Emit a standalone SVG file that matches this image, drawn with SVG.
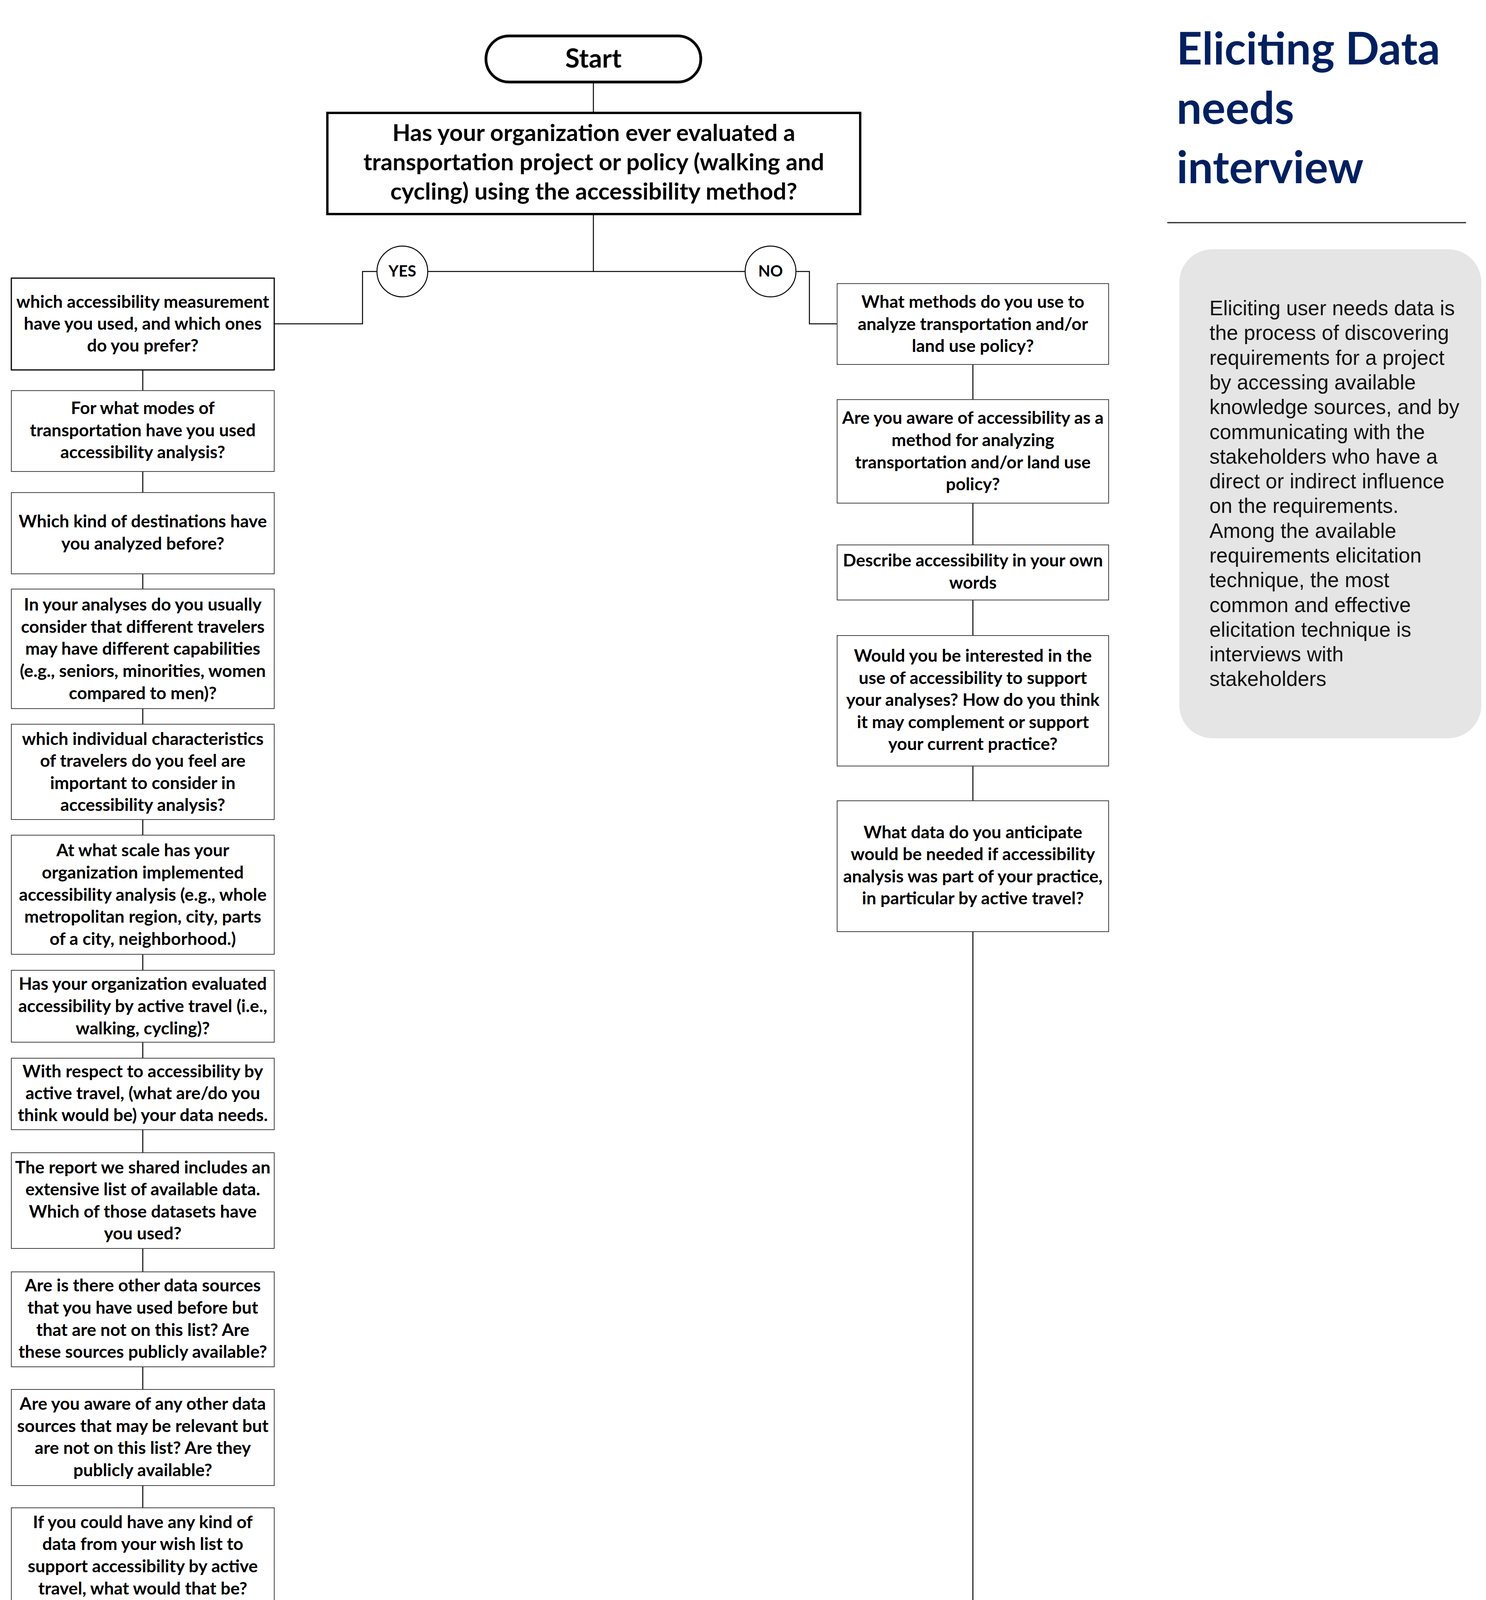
<svg xmlns="http://www.w3.org/2000/svg" width="3804" height="4307" viewBox="0 0 3804 4307">
<style>
.q{font-family:Lato,"Liberation Sans",sans-serif;font-weight:bold;font-size:44.5px;fill:#000;text-anchor:middle}
.box{fill:#fff;stroke:#404040;stroke-width:2}
.con{fill:none;stroke:#000;stroke-width:2.5}
.pill{fill:#fff;stroke:#000;stroke-width:7}
.circ{fill:#fff;stroke:#000;stroke-width:2.5}
.title{font-family:Lato,"Liberation Sans",sans-serif;font-weight:bold;font-size:114px;fill:#002060}
.desc{font-family:"Liberation Sans",Arial,sans-serif;font-size:52.8px;fill:#111}
</style>
<rect width="3804" height="4307" fill="#fff"/>
<g id="connectors">
<line class="con" x1="1519" y1="210" x2="1519" y2="288"/>
<line class="con" x1="1519" y1="550" x2="1519" y2="695"/>
<line class="con" x1="1095" y1="695" x2="1907" y2="695"/>
<polyline class="con" points="965,695 928,695 928,829 702,829"/>
<polyline class="con" points="2038,695 2072,695 2072,829 2143,829"/>
<line class="con" x1="365.5" y1="947" x2="365.5" y2="1000"/>
<line class="con" x1="365.5" y1="1207" x2="365.5" y2="1261"/>
<line class="con" x1="365.5" y1="1469" x2="365.5" y2="1508"/>
<line class="con" x1="365.5" y1="1814" x2="365.5" y2="1854"/>
<line class="con" x1="365.5" y1="2098" x2="365.5" y2="2138"/>
<line class="con" x1="365.5" y1="2443" x2="365.5" y2="2484"/>
<line class="con" x1="365.5" y1="2668" x2="365.5" y2="2709"/>
<line class="con" x1="365.5" y1="2892" x2="365.5" y2="2951"/>
<line class="con" x1="365.5" y1="3196" x2="365.5" y2="3256"/>
<line class="con" x1="365.5" y1="3499" x2="365.5" y2="3557"/>
<line class="con" x1="365.5" y1="3803" x2="365.5" y2="3860"/>
<polyline class="con" points="365.5,4105 365.5,4218 1215,4218"/>
<line class="con" x1="2490.5" y1="933" x2="2490.5" y2="1023"/>
<line class="con" x1="2490.5" y1="1288" x2="2490.5" y2="1395"/>
<line class="con" x1="2490.5" y1="1536" x2="2490.5" y2="1627"/>
<line class="con" x1="2490.5" y1="1961" x2="2490.5" y2="2050"/>
<polyline class="con" points="2490.5,2385 2490.5,4218 1763,4218"/>
</g>
<g id="start">
<rect class="pill" x="1244" y="92" width="550" height="118" rx="59"/>
<text x="1519" y="173" style="font-family:Lato,'Liberation Sans',sans-serif;font-weight:bold;font-size:67px;text-anchor:middle">Start</text>
</g>
<g id="question">
<rect x="838" y="289" width="1364" height="259" fill="#fff" stroke="#000" stroke-width="6"/>
<text class="q" style="font-size:60px" x="1520" y="361">Has your organization ever evaluated a</text>
<text class="q" style="font-size:60px" x="1520" y="436">transportation project or policy (walking and</text>
<text class="q" style="font-size:60px" x="1520" y="511">cycling) using the accessibility method?</text>
</g>
<g id="yes">
<circle class="circ" cx="1030" cy="695" r="65"/>
<text class="q" style="font-size:40px" x="1030" y="708">YES</text>
</g>
<g id="no">
<circle class="circ" cx="1972.5" cy="695" r="65"/>
<text class="q" style="font-size:40px" x="1972.5" y="708">NO</text>
</g>
<g id="l1">
<rect x="29" y="712" width="673" height="235" fill="#fff" stroke="#000" stroke-width="3"/>
<text class="q" x="365.5" y="788">which accessibility measurement</text>
<text class="q" x="365.5" y="844">have you used, and which ones</text>
<text class="q" x="365.5" y="900">do you prefer?</text>
</g>
<g id="l2">
<rect class="box" x="29" y="1000" width="673" height="207"/>
<text class="q" x="365.5" y="1060">For what modes of</text>
<text class="q" x="365.5" y="1117">transportation have you used</text>
<text class="q" x="365.5" y="1173">accessibility analysis?</text>
</g>
<g id="l3">
<rect class="box" x="29" y="1261" width="673" height="208"/>
<text class="q" x="365.5" y="1350">Which kind of destinations have</text>
<text class="q" x="365.5" y="1407">you analyzed before?</text>
</g>
<g id="l4">
<rect class="box" x="29" y="1508" width="673" height="306"/>
<text class="q" x="365.5" y="1563">In your analyses do you usually</text>
<text class="q" x="365.5" y="1620">consider that different travelers</text>
<text class="q" x="365.5" y="1676">may have different capabilities</text>
<text class="q" x="365.5" y="1733">(e.g., seniors, minorities, women</text>
<text class="q" x="365.5" y="1790">compared to men)?</text>
</g>
<g id="l5">
<rect class="box" x="29" y="1854" width="673" height="244"/>
<text class="q" x="365.5" y="1907">which individual characteristics</text>
<text class="q" x="365.5" y="1963">of travelers do you feel are</text>
<text class="q" x="365.5" y="2020">important to consider in</text>
<text class="q" x="365.5" y="2076">accessibility analysis?</text>
</g>
<g id="l6">
<rect class="box" x="29" y="2138" width="673" height="305"/>
<text class="q" x="365.5" y="2192">At what scale has your</text>
<text class="q" x="365.5" y="2249">organization implemented</text>
<text class="q" x="365.5" y="2306">accessibility analysis (e.g., whole</text>
<text class="q" x="365.5" y="2362">metropolitan region, city, parts</text>
<text class="q" x="365.5" y="2419">of a city, neighborhood.)</text>
</g>
<g id="l7">
<rect class="box" x="29" y="2484" width="673" height="184"/>
<text class="q" x="365.5" y="2534">Has your organization evaluated</text>
<text class="q" x="365.5" y="2591">accessibility by active travel (i.e.,</text>
<text class="q" x="365.5" y="2648">walking, cycling)?</text>
</g>
<g id="l8">
<rect class="box" x="29" y="2709" width="673" height="183"/>
<text class="q" x="365.5" y="2758">With respect to accessibility by</text>
<text class="q" x="365.5" y="2814">active travel, (what are/do you</text>
<text class="q" x="365.5" y="2870">think would be) your data needs.</text>
</g>
<g id="l9">
<rect class="box" x="29" y="2951" width="673" height="245"/>
<text class="q" x="365.5" y="3004">The report we shared includes an</text>
<text class="q" x="365.5" y="3060">extensive list of available data.</text>
<text class="q" x="365.5" y="3117">Which of those datasets have</text>
<text class="q" x="365.5" y="3173">you used?</text>
</g>
<g id="l10">
<rect class="box" x="29" y="3256" width="673" height="243"/>
<text class="q" x="365.5" y="3306">Are is there other data sources</text>
<text class="q" x="365.5" y="3363">that you have used before but</text>
<text class="q" x="365.5" y="3420">that are not on this list? Are</text>
<text class="q" x="365.5" y="3476">these sources publicly available?</text>
</g>
<g id="l11">
<rect class="box" x="29" y="3557" width="673" height="246"/>
<text class="q" x="365.5" y="3609">Are you aware of any other data</text>
<text class="q" x="365.5" y="3666">sources that may be relevant but</text>
<text class="q" x="365.5" y="3722">are not on this list? Are they</text>
<text class="q" x="365.5" y="3779">publicly available?</text>
</g>
<g id="l12">
<rect class="box" x="29" y="3860" width="673" height="245"/>
<text class="q" x="365.5" y="3912">If you could have any kind of</text>
<text class="q" x="365.5" y="3968">data from your wish list to</text>
<text class="q" x="365.5" y="4025">support accessibility by active</text>
<text class="q" x="365.5" y="4082">travel, what would that be?</text>
</g>
<g id="r1">
<rect class="box" x="2143" y="726" width="695" height="207"/>
<text class="q" x="2490.5" y="788">What methods do you use to</text>
<text class="q" x="2490.5" y="845">analyze transportation and/or</text>
<text class="q" x="2490.5" y="901">land use policy?</text>
</g>
<g id="r2">
<rect class="box" x="2143" y="1023" width="695" height="265"/>
<text class="q" x="2490.5" y="1085">Are you aware of accessibility as a</text>
<text class="q" x="2490.5" y="1142">method for analyzing</text>
<text class="q" x="2490.5" y="1199">transportation and/or land use</text>
<text class="q" x="2490.5" y="1255">policy?</text>
</g>
<g id="r3">
<rect class="box" x="2143" y="1395" width="695" height="141"/>
<text class="q" x="2490.5" y="1450">Describe accessibility in your own</text>
<text class="q" x="2490.5" y="1507">words</text>
</g>
<g id="r4">
<rect class="box" x="2143" y="1627" width="695" height="334"/>
<text class="q" x="2490.5" y="1694">Would you be interested in the</text>
<text class="q" x="2490.5" y="1751">use of accessibility to support</text>
<text class="q" x="2490.5" y="1807">your analyses? How do you think</text>
<text class="q" x="2490.5" y="1864">it may complement or support</text>
<text class="q" x="2490.5" y="1920">your current practice?</text>
</g>
<g id="r5">
<rect class="box" x="2143" y="2050" width="695" height="335"/>
<text class="q" x="2490.5" y="2146">What data do you anticipate</text>
<text class="q" x="2490.5" y="2202">would be needed if accessibility</text>
<text class="q" x="2490.5" y="2259">analysis was part of your practice,</text>
<text class="q" x="2490.5" y="2315">in particular by active travel?</text>
</g>
<g id="end">
<rect class="pill" x="1215" y="4144" width="548" height="149" rx="74"/>
<text class="q" style="font-size:46px" x="1489" y="4233">END</text>
</g>
<g id="title">
<text class="title" x="3012" y="165">Eliciting Data</text>
<text class="title" x="3012" y="317">needs</text>
<text class="title" x="3012" y="469">interview</text>
<line x1="2988" y1="570" x2="3753" y2="570" stroke="#222" stroke-width="3"/>
</g>
<g id="description">
<rect x="3019" y="638" width="773" height="1252" rx="85" fill="#e5e5e5"/>
<text class="desc" x="3096" y="807">Eliciting user needs data is</text>
<text class="desc" x="3096" y="870">the process of discovering</text>
<text class="desc" x="3096" y="934">requirements for a project</text>
<text class="desc" x="3096" y="997">by accessing available</text>
<text class="desc" x="3096" y="1060">knowledge sources, and by</text>
<text class="desc" x="3096" y="1124">communicating with the</text>
<text class="desc" x="3096" y="1187">stakeholders who have a</text>
<text class="desc" x="3096" y="1250">direct or indirect influence</text>
<text class="desc" x="3096" y="1313">on the requirements.</text>
<text class="desc" x="3096" y="1377">Among the available</text>
<text class="desc" x="3096" y="1440">requirements elicitation</text>
<text class="desc" x="3096" y="1503">technique, the most</text>
<text class="desc" x="3096" y="1567">common and effective</text>
<text class="desc" x="3096" y="1630">elicitation technique is</text>
<text class="desc" x="3096" y="1693">interviews with</text>
<text class="desc" x="3096" y="1756">stakeholders</text>
</g>
</svg>
